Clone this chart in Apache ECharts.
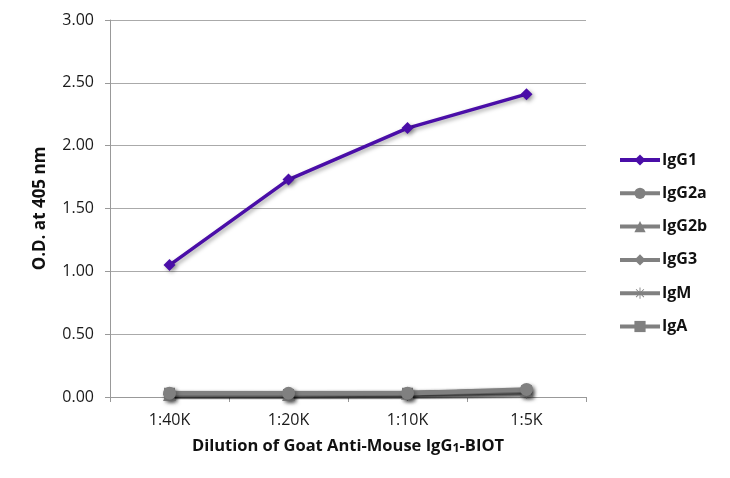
<!DOCTYPE html>
<html>
<head>
<meta charset="utf-8">
<script src="https://cdn.jsdelivr.net/npm/echarts@6/dist/echarts.min.js"></script>
<style>html,body{margin:0;padding:0;background:#fff;}#c{width:730px;height:478px;}</style>
</head>
<body>
<div id="c"></div>
<script>
var categories = ['1:40K', '1:20K', '1:10K', '1:5K'];
var yTicks = [0, 0.5, 1, 1.5, 2, 2.5, 3];
var IgG1 = [1.05, 1.73, 2.14, 2.41];
var IgG2a = [0.03, 0.03, 0.03, 0.06];
var IgG2b = [0.02, 0.02, 0.03, 0.05];
var IgG3 = [0.02, 0.03, 0.03, 0.05];
var IgM = [0.02, 0.02, 0.02, 0.04];
var IgA = [0.03, 0.02, 0.03, 0.05];

var names = ['IgG1', 'IgG2a', 'IgG2b', 'IgG3', 'IgM', 'IgA'];
var datas = [IgG1, IgG2a, IgG2b, IgG3, IgM, IgA];
var starPath = 'path://M-0.8,-10L0.8,-10L0.8,10L-0.8,10Z M-10,-0.8L10,-0.8L10,0.8L-10,0.8Z M-7.6,-6.5L-6.5,-7.6L7.6,6.5L6.5,7.6Z M7.6,-6.5L6.5,-7.6L-7.6,6.5L-6.5,7.6Z';
var symbols = ['diamond', 'circle', 'triangle', 'diamond', starPath, 'rect'];
var sizes = [12, 13, 13, 10, 13, 11];
var colors = ['#4a0ea8', '#808080', '#808080', '#808080', '#808080', '#808080'];
var widths = [3.5, 4.5, 4.5, 4.5, 4.5, 4.5];

var series = names.map(function (n, i) {
  return {
    name: n,
    type: 'line',
    data: datas[i],
    symbol: symbols[i],
    symbolSize: sizes[i],
    z: i === 0 ? 20 : 10 - i,
    lineStyle: { color: colors[i], width: widths[i], shadowColor: 'rgba(0,0,0,0.35)', shadowBlur: 4, shadowOffsetX: 2, shadowOffsetY: 2 },
    itemStyle: { color: colors[i], shadowColor: 'rgba(0,0,0,0.35)', shadowBlur: 4, shadowOffsetX: 2, shadowOffsetY: 2 },
    emphasis: { disabled: true },
    animation: false
  };
});

var chart = echarts.init(document.getElementById('c'));
chart.setOption({
  animation: false,
  textStyle: { fontFamily: 'Open Sans' },
  grid: { left: 110, right: 144, top: 20, bottom: 81, containLabel: false },
  legend: {
    orient: 'vertical',
    left: 613,
    top: 147,
    itemWidth: 40,
    itemHeight: 14,
    itemGap: 17.3,
    itemStyle: { borderWidth: 0, shadowBlur: 0, shadowOffsetX: 0, shadowOffsetY: 0 },
    lineStyle: { width: 4, shadowBlur: 0, shadowOffsetX: 0, shadowOffsetY: 0 },
    textStyle: { fontFamily: 'Open Sans', fontWeight: 'bold', fontSize: 16, lineHeight: 14, color: '#111', padding: [0, 0, 0, -3] },
    data: names
  },
  xAxis: {
    type: 'category',
    data: categories,
    boundaryGap: true,
    axisLine: { lineStyle: { color: '#999', width: 1 } },
    axisTick: { show: true, length: 5, inside: false, lineStyle: { color: '#999' } },
    axisLabel: { fontSize: 16, color: '#1a1a1a', margin: 15, fontFamily: 'Open Sans' },
    name: '{a|Dilution of Goat Anti-Mouse IgG}{b|1}{a|-BIOT}',
    nameLocation: 'middle',
    nameGap: 41,
    nameTextStyle: {
      rich: {
        a: { fontSize: 16.5, fontWeight: 'bold', color: '#111', fontFamily: 'Open Sans' },
        b: { fontSize: 12.5, fontWeight: 'bold', color: '#111', fontFamily: 'Open Sans', padding: [3, 0, 0, 0] }
      }
    }
  },
  yAxis: {
    type: 'value',
    min: 0,
    max: 3,
    interval: 0.5,
    axisLine: { show: true, lineStyle: { color: '#999', width: 1 } },
    axisTick: { show: true, length: 5, lineStyle: { color: '#999' } },
    splitLine: { show: true, lineStyle: { color: '#aaa', width: 1 } },
    axisLabel: { fontSize: 16, color: '#1a1a1a', margin: 16, fontFamily: 'Open Sans', formatter: function (v) { return v.toFixed(2); } },
    name: 'O.D. at 405 nm',
    nameLocation: 'middle',
    nameGap: 61,
    nameTextStyle: { fontSize: 17, fontWeight: 'bold', color: '#111', fontFamily: 'Open Sans' }
  },
  series: series
});
</script>
</body>
</html>
